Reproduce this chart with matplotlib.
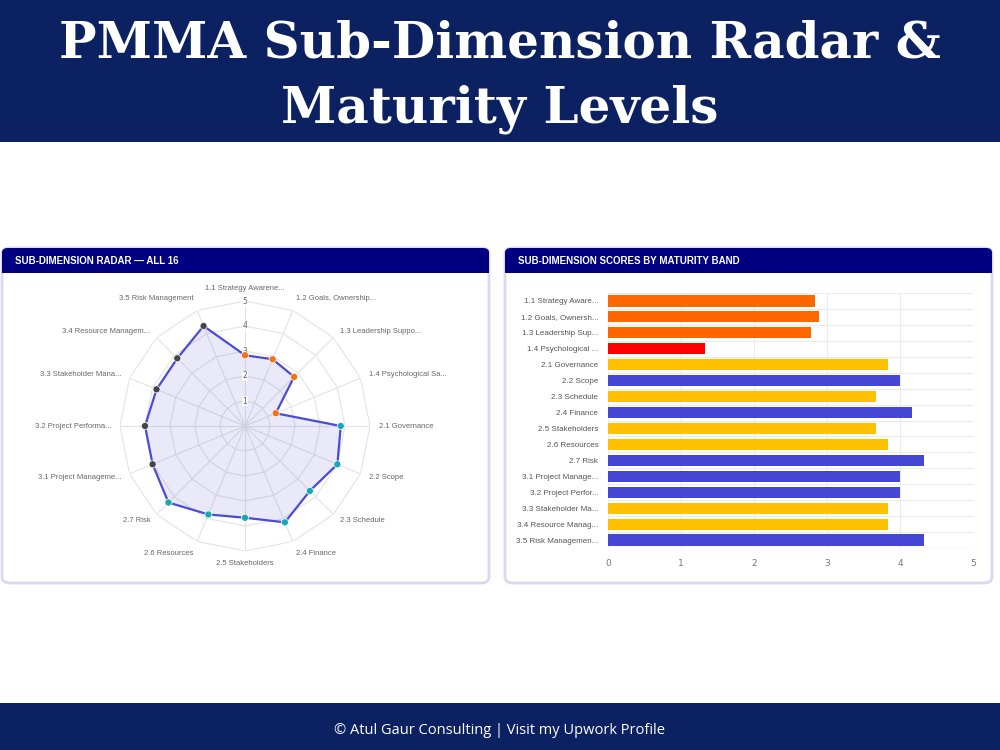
import numpy as np
import matplotlib
matplotlib.use('Agg')
import matplotlib.pyplot as plt
from matplotlib.patches import FancyBboxPatch, Rectangle

# Данные: подизмерения и их оценки
radar_labels = ['1.1 Strategy Awarene...', '1.2 Goals, Ownership...', '1.3 Leadership Suppo...',
                '1.4 Psychological Sa...', '2.1 Governance', '2.2 Scope', '2.3 Schedule',
                '2.4 Finance', '2.5 Stakeholders', '2.6 Resources', '2.7 Risk',
                '3.1 Project Manageme...', '3.2 Project Performa...', '3.3 Stakeholder Mana...',
                '3.4 Resource Managem...', '3.5 Risk Management']
bar_labels = ['1.1 Strategy Aware...', '1.2 Goals, Ownersh...', '1.3 Leadership Sup...',
              '1.4 Psychological ...', '2.1 Governance', '2.2 Scope', '2.3 Schedule',
              '2.4 Finance', '2.5 Stakeholders', '2.6 Resources', '2.7 Risk',
              '3.1 Project Manage...', '3.2 Project Perfor...', '3.3 Stakeholder Ma...',
              '3.4 Resource Manag...', '3.5 Risk Managemen...']
scores = [2.83, 2.89, 2.78, 1.33, 3.83, 4.0, 3.67, 4.17, 3.67, 3.83, 4.33, 4.0, 4.0, 3.83, 3.83, 4.33]
dimension = [1, 1, 1, 1, 2, 2, 2, 2, 2, 2, 2, 3, 3, 3, 3, 3]

dim_colors = {1: '#f07212', 2: '#17a8b2', 3: '#454545'}


def band_color(v):
    # цвет полосы по уровню зрелости
    if v < 2:
        return '#ff0000'
    if v < 3:
        return '#ff6600'
    if v < 4:
        return '#ffc000'
    return '#4646d4'


navy = '#0b2161'
header = '#000080'

fig = plt.figure(figsize=(10, 7.5), dpi=100)
fig.patch.set_facecolor('white')

# Верхний и нижний баннеры
fig.add_artist(Rectangle((0, 1 - 142 / 750), 1, 142 / 750, transform=fig.transFigure,
                         facecolor=navy, edgecolor='none', zorder=-2))
fig.add_artist(Rectangle((0, 0), 1, 47 / 750, transform=fig.transFigure,
                         facecolor=navy, edgecolor='none', zorder=-2))
fig.text(0.5, 1 - 44 / 750, 'PMMA Sub-Dimension Radar &', ha='center', va='center',
         color='white', fontsize=36, fontweight='heavy', family='DejaVu Serif')
fig.text(0.5, 1 - 109 / 750, 'Maturity Levels', ha='center', va='center',
         color='white', fontsize=36, fontweight='heavy', family='DejaVu Serif')
fig.text(0.5, 1 - 730 / 750, '© Atul Gaur Consulting | Visit my Upwork Profile', ha='center',
         va='center', color='white', fontsize=10.5, family='Open Sans')


# Карточки панелей
def card(x0, x1, title):
    y0, y1 = 1 - 583 / 750, 1 - 248 / 750
    fig.add_artist(FancyBboxPatch((x0 / 1000, y0), (x1 - x0) / 1000, y1 - y0,
                                  boxstyle='round,pad=0,rounding_size=0.008',
                                  transform=fig.transFigure, facecolor='white',
                                  edgecolor='#d9d9f3', linewidth=2, zorder=-2))
    fig.add_artist(FancyBboxPatch((x0 / 1000, 1 - 273 / 750), (x1 - x0) / 1000, 25 / 750,
                                  boxstyle='round,pad=0,rounding_size=0.006',
                                  transform=fig.transFigure, facecolor=header,
                                  edgecolor='none', zorder=-1))
    fig.add_artist(Rectangle((x0 / 1000, 1 - 273 / 750), (x1 - x0) / 1000, 10 / 750,
                             transform=fig.transFigure, facecolor=header, edgecolor='none',
                             zorder=-1))
    fig.text((x0 + 13) / 1000, 1 - 261 / 750, title, ha='left', va='center', color='white',
             fontsize=7, fontweight='bold', family='Liberation Sans')


card(2, 489, 'SUB-DIMENSION RADAR — ALL 16')
card(505, 992, 'SUB-DIMENSION SCORES BY MATURITY BAND')

# Радар
n = len(scores)
theta = np.linspace(0, 2 * np.pi, n, endpoint=False)
cx, cy, rad = 245, 426, 125
ax = fig.add_axes([(cx - rad) / 1000, (750 - cy - rad) / 750, 2 * rad / 1000, 2 * rad / 750],
                  projection='polar')
ax.set_theta_offset(np.pi / 2)
ax.set_theta_direction(-1)
ax.set_ylim(0, 5)
ax.grid(False)
ax.spines['polar'].set_visible(False)
ax.set_xticks([])
ax.set_yticks([])
ax.patch.set_alpha(0)

closed = np.append(theta, theta[0])
for lvl in range(1, 6):
    ax.plot(closed, [lvl] * (n + 1), color='#e3e3e3', lw=0.8, zorder=1)
for t in theta:
    ax.plot([t, t], [0, 5], color='#e3e3e3', lw=0.8, zorder=1)

vals = np.append(scores, scores[0])
ax.fill(closed, vals, color='#4b4bd8', alpha=0.12, zorder=2, lw=0)
ax.plot(closed, vals, color='#4b4bd8', lw=1.6, zorder=3)
ax.scatter(theta, scores, c=[dim_colors[d] for d in dimension], s=26, zorder=4,
           edgecolors='white', linewidths=0.5)

for lvl in range(1, 6):
    ax.text(0, lvl, str(lvl), ha='center', va='center', fontsize=5.5, color='#666666',
            zorder=3.5, bbox=dict(facecolor='white', edgecolor='none', pad=0.3, alpha=0.8))

for t, lab in zip(theta, radar_labels):
    s = np.sin(t)
    if abs(s) < 1e-6:
        ha = 'center'
    elif s > 0:
        ha = 'left'
    else:
        ha = 'right'
    c = np.cos(t)
    va = 'bottom' if c > 0.9 else ('top' if c < -0.9 else 'center')
    ax.text(t, 5.35, lab, ha=ha, va=va, fontsize=5.5, color='#666666',
            family='Liberation Sans', clip_on=False)

# Горизонтальная диаграмма
bx = fig.add_axes([0.608, 1 - 548 / 750, 0.365, 255 / 750])
y = np.arange(n)
bx.barh(y, scores, height=0.7, color=[band_color(v) for v in scores], zorder=3)
bx.set_xlim(0, 5)
bx.set_ylim(n - 0.5, -0.5)
bx.set_yticks(y)
bx.set_yticklabels(bar_labels, fontsize=5.8, color='#555555', family='Liberation Sans')
bx.set_xticks(range(6))
bx.set_xticklabels([str(i) for i in range(6)], fontsize=6.5, color='#777777')
bx.tick_params(length=0, pad=8)
bx.tick_params(axis='y', pad=7)
for i in range(6):
    bx.axvline(i, color='#ebebeb', lw=0.8, zorder=1)
for b in np.arange(-0.5, n, 1):
    bx.axhline(b, color='#ebebeb', lw=0.8, zorder=1)
for sp in bx.spines.values():
    sp.set_visible(False)
bx.axhline(n - 0.5, color='#dddddd', lw=0.9, zorder=2)

plt.savefig('out.png', dpi=100)
